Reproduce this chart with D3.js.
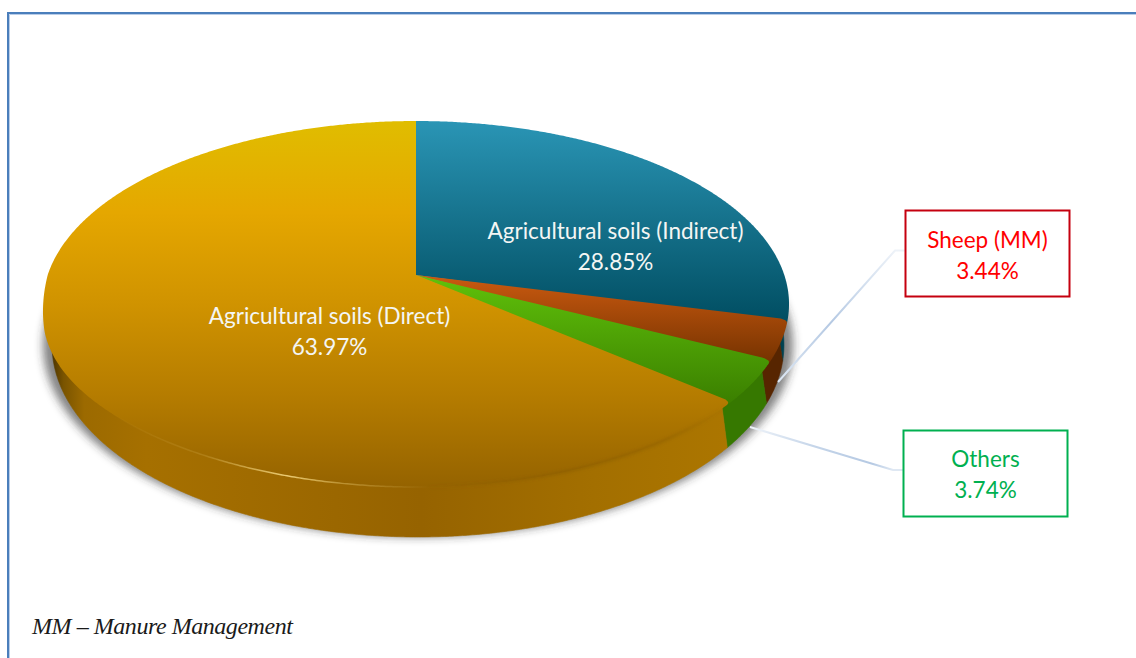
<!DOCTYPE html>
<html>
<head>
<meta charset="utf-8">
<script src="https://cdn.jsdelivr.net/npm/d3@7"></script>
<style>
  html, body { margin: 0; padding: 0; background: #fff; }
  svg { display: block; }
</style>
</head>
<body>
<svg id="chart" width="1136" height="658"></svg>
<script>
// Emission shares, clockwise from twelve o'clock
const categories = ["Agricultural soils (Indirect)", "Sheep (MM)", "Others", "Agricultural soils (Direct)"];
const shares = [28.85, 3.44, 3.74, 63.97];
const topColors = [
  ["#2a95b5", "#004d61"],
  ["#cb5a10", "#743200"],
  ["#60c20a", "#3a7e00"],
  ["#e0bd00", "#e5a700", "#d09300", "#b57c00", "#956300"]
];
const wallColors = ["#00414f", "#572500", "#367800", "#a06c00"];
const footnote = "MM – Manure Management";

const svg = d3.select("#chart");
const defs = svg.append("defs");
const W = 1136, H = 658;

// Perspective view of the disc: pivot, radius, foreshortening and the lower rim
const view = { cx: 416, cy: 275, r: 368.3, s: 178.4, k: 0.1585,
               baseScaleX: 0.981, baseScaleY: 1.049, baseDx: 2, baseDy: 39.6 };

const sx = d3.scaleLinear().domain([0, 1]).range([view.cx, view.cx + view.r]);
const sy = d3.scaleLinear().domain([0, 1]).range([view.cy, view.cy + view.s]);

// Angle (radians, clockwise from the top) and radial fraction to the screen
function topPoint(a, t = 1) {
  const u = t * Math.sin(a), v = -t * Math.cos(a), w = 1 - view.k * v;
  return [sx(u / w), sy(v / w)];
}
function basePoint(a, grow = 1) {
  const [x, y] = topPoint(a);
  return [view.cx + (x - view.cx) * view.baseScaleX * grow + view.baseDx,
          view.cy + (y - view.cy) * view.baseScaleY + view.baseDy];
}
// The rounded lip hangs a little lower than the flat face towards the far left
function lipPoint(a) {
  const [x, y] = topPoint(a);
  const u = Math.sin(a), v = -Math.cos(a);
  if (u >= 0) return [x, y];
  const ramp = Math.max(0, Math.min(1, v / 0.25));
  return [x, y + 12 * Math.pow(u, 4) * ramp];
}

const arcs = d3.pie().sort(null).value(d => d)(shares);
const line = d3.line();

function samples(a0, a1, step = 0.006) {
  const n = Math.max(2, Math.ceil((a1 - a0) / step));
  return d3.range(n + 1).map(i => a0 + (a1 - a0) * i / n);
}

// Each slice after the first has a softened leading corner
const cornerWidth = 0.022, cornerDepth = 0.018;
function edgeRadius(a, a0) {
  const d = a - a0;
  if (d >= cornerWidth) return 1;
  const q = 1 - d / cornerWidth;
  return 1 - cornerDepth * (1 - Math.sqrt(1 - q * q));
}

// Soft shadow beneath the disc
defs.append("filter").attr("id", "soft").attr("x", "-10%").attr("y", "-10%")
  .attr("width", "120%").attr("height", "120%")
  .append("feGaussianBlur").attr("stdDeviation", 4.5);
defs.append("filter").attr("id", "soft-lip").attr("x", "-10%").attr("y", "-50%")
  .attr("width", "120%").attr("height", "200%")
  .append("feGaussianBlur").attr("stdDeviation", 1.4);

svg.append("path")
  .attr("d", line(samples(0, 2 * Math.PI, 0.02).map(a => basePoint(a, 1.025))) + "Z")
  .attr("fill", "#303030").attr("fill-opacity", 0.6).attr("filter", "url(#soft)");

// Wall shading runs across the width of the disc
const wallGrad = defs.append("linearGradient").attr("id", "wall-direct")
  .attr("gradientUnits", "userSpaceOnUse").attr("x1", 43).attr("x2", 731).attr("y1", 0).attr("y2", 0);
[[0, "#2a1d00"], [0.012, "#4a3300"], [0.03, "#7a5400"], [0.06, "#9c6a00"], [0.15, "#a67000"],
 [0.55, "#966300"], [0.8, "#a36f00"], [1, "#ac7600"]]
  .forEach(([o, c]) => wallGrad.append("stop").attr("offset", o).attr("stop-color", c));

const wallFill = i => i === 3 ? "url(#wall-direct)" : wallColors[i];

const walls = svg.append("g");
arcs.forEach((d, i) => {
  const as = samples(d.startAngle, d.endAngle);
  const pts = as.map(a => topPoint(a, 0.97)).concat(as.slice().reverse().map(a => basePoint(a)));
  walls.append("path").attr("d", line(pts) + "Z").attr("fill", wallFill(i))
    .attr("stroke", wallFill(i)).attr("stroke-width", 0.6);
});

// Top faces, each with its own vertical sheen; every face runs slightly
// under its neighbour so that the rounded corner shows the earlier colour
const faces = svg.append("g");
arcs.forEach((d, i) => {
  const end = i < arcs.length - 1 ? d.endAngle + cornerWidth : d.endAngle;
  const as = samples(d.startAngle, end);
  const rim = as.map(a => {
    if (i === 3) {
      const [x, y] = lipPoint(a);
      const f = edgeRadius(a, d.startAngle);
      return [view.cx + (x - view.cx) * f, view.cy + (y - view.cy) * f];
    }
    return topPoint(a, i === 0 ? 1 : edgeRadius(a, d.startAngle));
  });
  const pts = [topPoint(0, 0), ...rim];
  const ys = pts.map(p => p[1]);
  const g = defs.append("linearGradient").attr("id", "face-" + i)
    .attr("gradientUnits", "userSpaceOnUse")
    .attr("x1", 0).attr("x2", 0).attr("y1", d3.min(ys)).attr("y2", d3.max(ys));
  topColors[i].forEach((c, j, list) =>
    g.append("stop").attr("offset", j / (list.length - 1)).attr("stop-color", c));
  faces.append("path").attr("d", line(pts) + "Z").attr("fill", `url(#face-${i})`);
});

// Pale glint along the front lip of the disc, and a soft crease further right
const glint = defs.append("linearGradient").attr("id", "glint")
  .attr("gradientUnits", "userSpaceOnUse").attr("x1", 110).attr("x2", 430).attr("y1", 0).attr("y2", 0);
[[0, 0], [0.3, 0.15], [0.55, 0.8], [0.72, 0.35], [1, 0]]
  .forEach(([o, a]) => glint.append("stop").attr("offset", o).attr("stop-color", "#ffe48f").attr("stop-opacity", a));
svg.append("path")
  .attr("d", line(samples(Math.PI * 0.98, Math.PI * 1.45).map(a => lipPoint(a))))
  .attr("fill", "none").attr("stroke", "url(#glint)").attr("stroke-width", 1.5);

const crease = defs.append("linearGradient").attr("id", "crease")
  .attr("gradientUnits", "userSpaceOnUse").attr("x1", 420).attr("x2", 730).attr("y1", 0).attr("y2", 0);
[[0, 0], [0.45, 0.35], [0.8, 0.3], [1, 0]]
  .forEach(([o, a]) => crease.append("stop").attr("offset", o).attr("stop-color", "#7a5000").attr("stop-opacity", a));
svg.append("path")
  .attr("d", line(samples(Math.PI * 0.72, Math.PI * 0.99).map(a => topPoint(a))))
  .attr("fill", "none").attr("stroke", "url(#crease)").attr("stroke-width", 3).attr("filter", "url(#soft-lip)");

// Leader lines from the small slices to their callouts
const leaderGrad = (id, x1, y1, x2, y2, stops) => {
  const g = defs.append("linearGradient").attr("id", id).attr("gradientUnits", "userSpaceOnUse")
    .attr("x1", x1).attr("y1", y1).attr("x2", x2).attr("y2", y2);
  stops.forEach(([o, c]) => g.append("stop").attr("offset", o).attr("stop-color", c));
  return `url(#${id})`;
};

const callouts = [
  { idx: 1, x: 905.5, y: 210.5, w: 164, h: 86, color: "#ff0000", border: "#c5000f", dy: 37,
    leader: [[778, 382], [895, 250.5], [905, 250.5]], tint: ["#dde7f3", "#b5c9e3", "#dfe8f3", "#edf2f8"] },
  { idx: 2, x: 903.5, y: 430.5, w: 164, h: 86, color: "#00b050", border: "#00b050", dy: 36,
    leader: [[750, 427], [893, 470], [903, 470]], tint: ["#eef3f9", "#c5d5e9", "#b5c9e3", "#dfe8f3"] }
];

const labelFont = "Lato, 'Noto Sans', sans-serif";
const labelSize = 22.5;
const fmt = d3.format(".2f");

callouts.forEach((c, n) => {
  const [p0, p1] = c.leader;
  const stroke = leaderGrad("leader-" + n, p0[0], p0[1], p1[0], p1[1],
    [[0, c.tint[0]], [0.45, c.tint[1]], [0.85, c.tint[2]], [1, c.tint[3]]]);
  svg.append("path").attr("d", line(c.leader)).attr("fill", "none")
    .attr("stroke", stroke).attr("stroke-width", 2);
  svg.append("rect").attr("x", c.x).attr("y", c.y).attr("width", c.w).attr("height", c.h)
    .attr("fill", "#fff").attr("stroke", c.border).attr("stroke-width", 2);
  const t = svg.append("text").attr("text-anchor", "middle").attr("fill", c.color)
    .attr("font-family", labelFont).attr("font-size", labelSize);
  const mx = c.x + c.w / 2;
  t.append("tspan").attr("x", mx).attr("y", c.y + c.dy).text(categories[c.idx]);
  t.append("tspan").attr("x", mx).attr("y", c.y + c.dy + 31).text(fmt(shares[c.idx]) + "%");
});

// White labels on the two large slices
const faceLabels = [
  { idx: 0, x: 615.5, y: 239 },
  { idx: 3, x: 329.5, y: 323.5 }
];
faceLabels.forEach(l => {
  const t = svg.append("text").attr("text-anchor", "middle").attr("fill", "#f4f6f4")
    .attr("font-family", labelFont).attr("font-size", labelSize);
  t.append("tspan").attr("x", l.x).attr("y", l.y).text(categories[l.idx]);
  t.append("tspan").attr("x", l.x).attr("y", l.y + 31).text(fmt(shares[l.idx]) + "%");
});

// Footnote
svg.append("text").attr("x", 32).attr("y", 634)
  .attr("font-family", "'Liberation Serif', serif").attr("font-style", "italic")
  .attr("font-size", 24).attr("letter-spacing", -0.45).attr("fill", "#1a1a1a")
  .text(footnote);

// Frame around the figure, open to the right and below
svg.append("path").attr("d", `M9.5,${H}V14.5H${W}`).attr("fill", "none")
  .attr("stroke", "#b9cde8").attr("stroke-width", 1);
svg.append("path").attr("d", `M8,${H}V13H${W}`).attr("fill", "none")
  .attr("stroke", "#4a7ebb").attr("stroke-width", 2);
</script>
</body>
</html>
